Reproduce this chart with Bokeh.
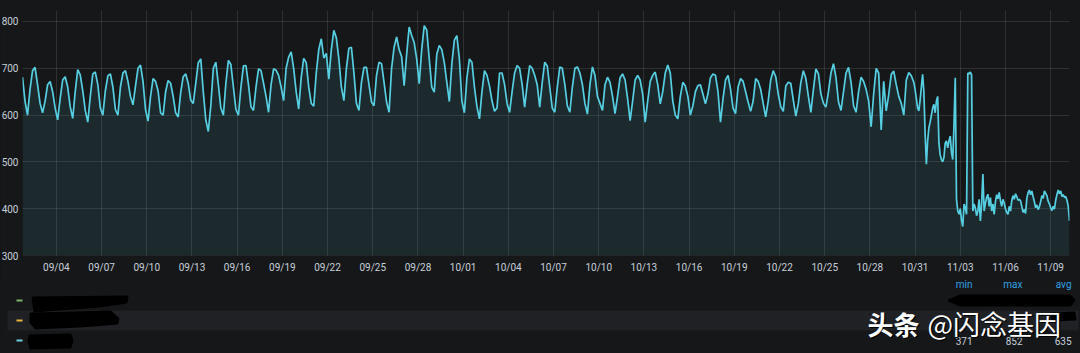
import pandas as pd
from bokeh.plotting import figure
from bokeh.models import FixedTicker, DatetimeTickFormatter, Range1d, ColumnDataSource
from bokeh.layouts import column
from bokeh.embed import file_html
from bokeh.resources import INLINE
from bokeh.core.properties import value

# ---------------- data ----------------
# part A: one reading every 4 hours from 2021-09-01 18:00
seg_a_start = "2021-09-01 18:00"
seg_a_step = "4h"
seg_a_values = [
    681, 630,
    600, 655, 695, 702, 665, 625,   # 09/02
    605, 630, 665, 672, 650, 615,   # 09/03
    590, 635, 675, 682, 660, 618,   # 09/04
    593, 650, 697, 686, 652, 610,   # 09/05
    585, 640, 688, 692, 665, 615,   # 09/06
    600, 652, 684, 688, 660, 612,   # 09/07
    600, 660, 690, 695, 672, 640,   # 09/08
    622, 662, 700, 707, 672, 612,   # 09/09
    587, 640, 678, 672, 652, 605,   # 09/10
    600, 650, 674, 668, 640, 605,   # 09/11
    596, 648, 682, 688, 668, 632,   # 09/12
    625, 668, 712, 720, 650, 590,   # 09/13
    565, 620, 700, 713, 665, 615,   # 09/14
    600, 668, 717, 708, 660, 612,   # 09/15
    600, 660, 705, 706, 665, 618,   # 09/16
    610, 660, 699, 695, 668, 640,   # 09/17
    606, 665, 699, 696, 685, 660,   # 09/18
    631, 700, 724, 735, 700, 650,   # 09/19
    613, 680, 721, 712, 660, 625,   # 09/20
    619, 690, 740, 763, 722, 732,   # 09/21
    677, 740, 781, 765, 720, 660,   # 09/22
    631, 700, 743, 745, 690, 625,   # 09/23
    610, 670, 702, 702, 665, 628,   # 09/24
    620, 685, 713, 710, 670, 628,   # 09/25
    606, 700, 745, 767, 740, 725,   # 09/26
    663, 730, 788, 770, 755, 720,   # 09/27
    667, 740, 791, 782, 720, 660,   # 09/28
    649, 730, 749, 740, 712, 670,   # 09/29
    629, 710, 760, 770, 720, 630,   # 09/30
    605, 680, 720, 713, 660, 618,   # 10/01
    592, 650, 695, 685, 662, 630,   # 10/02
    608, 615, 690, 690, 665, 625,   # 10/03
    606, 650, 690, 706, 700, 665,   # 10/04
    617, 665, 706, 700, 685, 665,   # 10/05
    617, 670, 713, 705, 660, 615,   # 10/06
    606, 660, 703, 700, 665, 620,   # 10/07
    606, 660, 700, 703, 690, 665,   # 10/08
    625, 602, 665, 703, 685, 640,   # 10/09
    625, 610, 665, 681, 670, 640,   # 10/10
    603, 640, 680, 688, 675, 635,   # 10/11
    588, 630, 675, 685, 675, 645,   # 10/12
    585, 630, 672, 685, 692, 665,   # 10/13
    624, 650, 690, 707, 690, 630,   # 10/14
    600, 592, 640, 670, 662, 640,   # 10/15
    600, 620, 650, 663, 665, 645,   # 10/16
    624, 645, 680, 688, 685, 650,   # 10/17
    585, 635, 675, 685, 655, 615,   # 10/18
    603, 660, 678, 672, 650, 628,   # 10/19
    608, 630, 678, 672, 655, 625,   # 10/20
    596, 630, 675, 695, 682, 645,   # 10/21
    618, 608, 662, 670, 668, 632,   # 10/22
    598, 625, 670, 695, 678, 640,   # 10/23
    606, 655, 699, 688, 645, 625,   # 10/24
    617, 650, 690, 710, 680, 628,   # 10/25
    610, 650, 690, 702, 670, 620,   # 10/26
    606, 650, 681, 672, 655, 630,   # 10/27
    575, 645, 700, 690, 568, 672,   # 10/28
    609, 644, 687, 694, 665, 640,   # 10/29
    625, 600, 675, 691, 684, 670,   # 10/30
]
# part B: one reading every 2 hours from 2021-10-31 00:00
seg_b_start = "2021-10-31 00:00"
seg_b_step = "2h"
seg_b_values = [
    655, 635, 615, 609, 632, 660, 687, 650, 560, 495, 545, 573,   # 10/31
    585, 600, 615, 623, 605, 630, 640, 540, 515, 505, 500, 510,   # 11/01
    540, 545, 530, 545, 555, 520, 505, 580, 680, 420, 395, 388,   # 11/02
    400, 375, 362, 410, 402, 388, 690, 688, 692, 686, 395, 410,   # 11/03
    402, 385, 395, 420, 374, 410, 474, 395, 412, 424, 431, 405,   # 11/04
    424, 395, 410, 388, 415, 430, 421, 435, 417, 405, 420, 412,   # 11/05
    400, 392, 388, 405, 395, 417, 428, 420, 432, 426, 418, 420,   # 11/06
    417, 405, 392, 398, 390, 422, 434, 440, 430, 438, 426, 415,   # 11/07
    402, 408, 398, 404, 415, 428, 422, 438, 433, 428, 416, 410,   # 11/08
    402, 396, 405, 399, 418, 430, 440, 432, 438, 426, 430, 424,   # 11/09
    426, 418, 405, 374,                                           # 11/10
]

y_ticks = [300, 400, 500, 600, 700, 800]
y_base, y_max = 300, 823.5
tick_dates = ["2021-09-04", "2021-09-07", "2021-09-10", "2021-09-13", "2021-09-16",
              "2021-09-19", "2021-09-22", "2021-09-25", "2021-09-28", "2021-10-01",
              "2021-10-04", "2021-10-07", "2021-10-10", "2021-10-13", "2021-10-16",
              "2021-10-19", "2021-10-22", "2021-10-25", "2021-10-28", "2021-10-31",
              "2021-11-03", "2021-11-06", "2021-11-09"]
tick_labels = ["09/04", "09/07", "09/10", "09/13", "09/16", "09/19", "09/22", "09/25",
               "09/28", "10/01", "10/04", "10/07", "10/10", "10/13", "10/16", "10/19",
               "10/22", "10/25", "10/28", "10/31", "11/03", "11/06", "11/09"]

legend_colors = ["#7EB26D", "#EAB839", "#6ED0E0"]
stat_headers = ["min", "max", "avg"]
stat_values = ["371", "852", "635"]
watermark = ["头条", "@闪念基因"]

# ---------------- styling ----------------
BG = "#161719"
LINE = "#56cfe2"
TXT = "#c7d0d9"
FONT = "Roboto"
W, H_TOP = 1080, 278
PLOT_L, PLOT_R = 22, 1069          # pixel span of the time axis
PLOT_T, PLOT_B = 10, 255           # pixel span of the value axis

t_a = pd.date_range(seg_a_start, periods=len(seg_a_values), freq=seg_a_step)
t_b = pd.date_range(seg_b_start, periods=len(seg_b_values), freq=seg_b_step)
times = list(t_a) + list(t_b)
vals = seg_a_values + seg_b_values
src = ColumnDataSource(dict(t=times, v=vals))

t0 = times[0].value / 1e6
t1 = times[-1].value / 1e6
ms_per_px = (t1 - t0) / (PLOT_R - PLOT_L)
x_start = t0 - PLOT_L * ms_per_px
x_end = t1 + (W - PLOT_R) * ms_per_px
u_per_px = (y_max - y_base) / (PLOT_B - PLOT_T)
y_low = y_base - (H_TOP - PLOT_T - (PLOT_B - PLOT_T)) * u_per_px

p = figure(width=W, height=H_TOP, x_axis_type="datetime", output_backend="svg",
           toolbar_location=None, x_range=Range1d(x_start, x_end),
           y_range=Range1d(y_low, y_max),
           min_border_left=0, min_border_right=0, min_border_top=PLOT_T, min_border_bottom=0)
p.background_fill_color = BG
p.border_fill_color = BG
p.outline_line_color = None

p.varea(x="t", y1=y_base, y2="v", source=src, fill_color=LINE, fill_alpha=0.1)
p.line(x="t", y="v", source=src, line_color=LINE, line_width=1.7)
# keep grid lines inside the plotting rectangle
p.quad(left=[x_start, t1, x_start], right=[t0, x_end, x_end],
       bottom=[y_low, y_low, y_low], top=[y_max, y_max, y_base],
       fill_color=BG, line_color=None)

tick_ms = [pd.Timestamp(d).value // 10**6 for d in tick_dates]
p.xaxis.ticker = FixedTicker(ticks=tick_ms)
p.xaxis.formatter = DatetimeTickFormatter(days="%m/%d", months="%m/%d", hours="%m/%d",
                                          years="%m/%d")
p.xaxis.major_label_overrides = {ms: lab for ms, lab in zip(tick_ms, tick_labels)}
p.xaxis.fixed_location = y_base
p.yaxis.ticker = FixedTicker(ticks=y_ticks)
p.yaxis.fixed_location = t0
for ax in (p.xaxis, p.yaxis):
    ax.axis_line_color = None
    ax.major_tick_line_color = None
    ax.minor_tick_line_color = None
    ax.major_tick_out = 0
    ax.major_tick_in = 0
    ax.minor_tick_out = 0
    ax.major_label_text_font = FONT
    ax.major_label_text_font_size = "10px"
    ax.major_label_text_color = TXT
p.xaxis.major_label_standoff = 6
p.yaxis.major_label_standoff = 4
p.xgrid.grid_line_color = "#ffffff"
p.xgrid.grid_line_alpha = 0.11
p.ygrid.grid_line_color = "#ffffff"
p.ygrid.grid_line_alpha = 0.11

# ---------------- legend table below ----------------
q = figure(width=W, height=75, output_backend="svg", toolbar_location=None,
           x_range=Range1d(0, W), y_range=Range1d(75, 0),
           min_border_left=0, min_border_right=0, min_border_top=0, min_border_bottom=0)
q.background_fill_color = BG
q.border_fill_color = BG
q.outline_line_color = None
q.axis.visible = False
q.grid.visible = False

row_y = [22, 42, 62]
q.quad(left=7, right=1078, top=32, bottom=52, fill_color="#1f2125", line_color=None)
q.segment(x0=[16] * 3, x1=[22] * 3, y0=row_y, y1=row_y, line_color=legend_colors, line_width=2)

# redaction marks
blobs_x = [[32, 127, 126, 100, 60, 34],
           [30, 110, 118, 117, 80, 35, 30],
           [29, 70, 72, 70, 30, 28],
           [948, 960, 1070, 1074, 1070, 960],
           [1050, 1074, 1075, 1052]]
blobs_y = [[19, 18, 24, 28, 31, 33],
           [35, 33, 40, 45, 48, 50, 44],
           [57, 56, 62, 69, 70, 63],
           [22, 17, 17, 22, 27, 27],
           [35, 34, 41, 42]]
q.patches(xs=blobs_x, ys=blobs_y, fill_color="#000000", line_color="#000000", line_width=2)

col_x = [972, 1022, 1071]
q.text(x=col_x, y=[6] * 3, text=stat_headers, text_color="#33a2e5", text_font=value(FONT),
       text_font_size="10px", text_align="right", text_baseline="middle")
q.text(x=col_x, y=[62] * 3, text=stat_values, text_color=TXT, text_font=value(FONT),
       text_font_size="10px", text_align="right", text_baseline="middle")

# watermark
wm_x = [867, 927]
wm_size = ["26px", "27px"]
wm_style = ["bold", "normal"]
for dx, col in ((1.2, "#000000"), (0, "#ffffff")):
    for x, s, st, fs in zip(wm_x, watermark, wm_style, wm_size):
        q.text(x=[x + dx], y=[45 + dx], text=[s], text_color=col,
               text_font=value("Noto Sans CJK SC"), text_font_size=fs,
               text_font_style=st, text_align="left", text_baseline="middle")

layout = column(p, q, spacing=0)
html = file_html(layout, INLINE)
html = html.replace("</head>",
                    "<style>html,body{margin:0;padding:0;background:%s;}</style></head>" % BG, 1)
open("out.html", "w").write(html)
